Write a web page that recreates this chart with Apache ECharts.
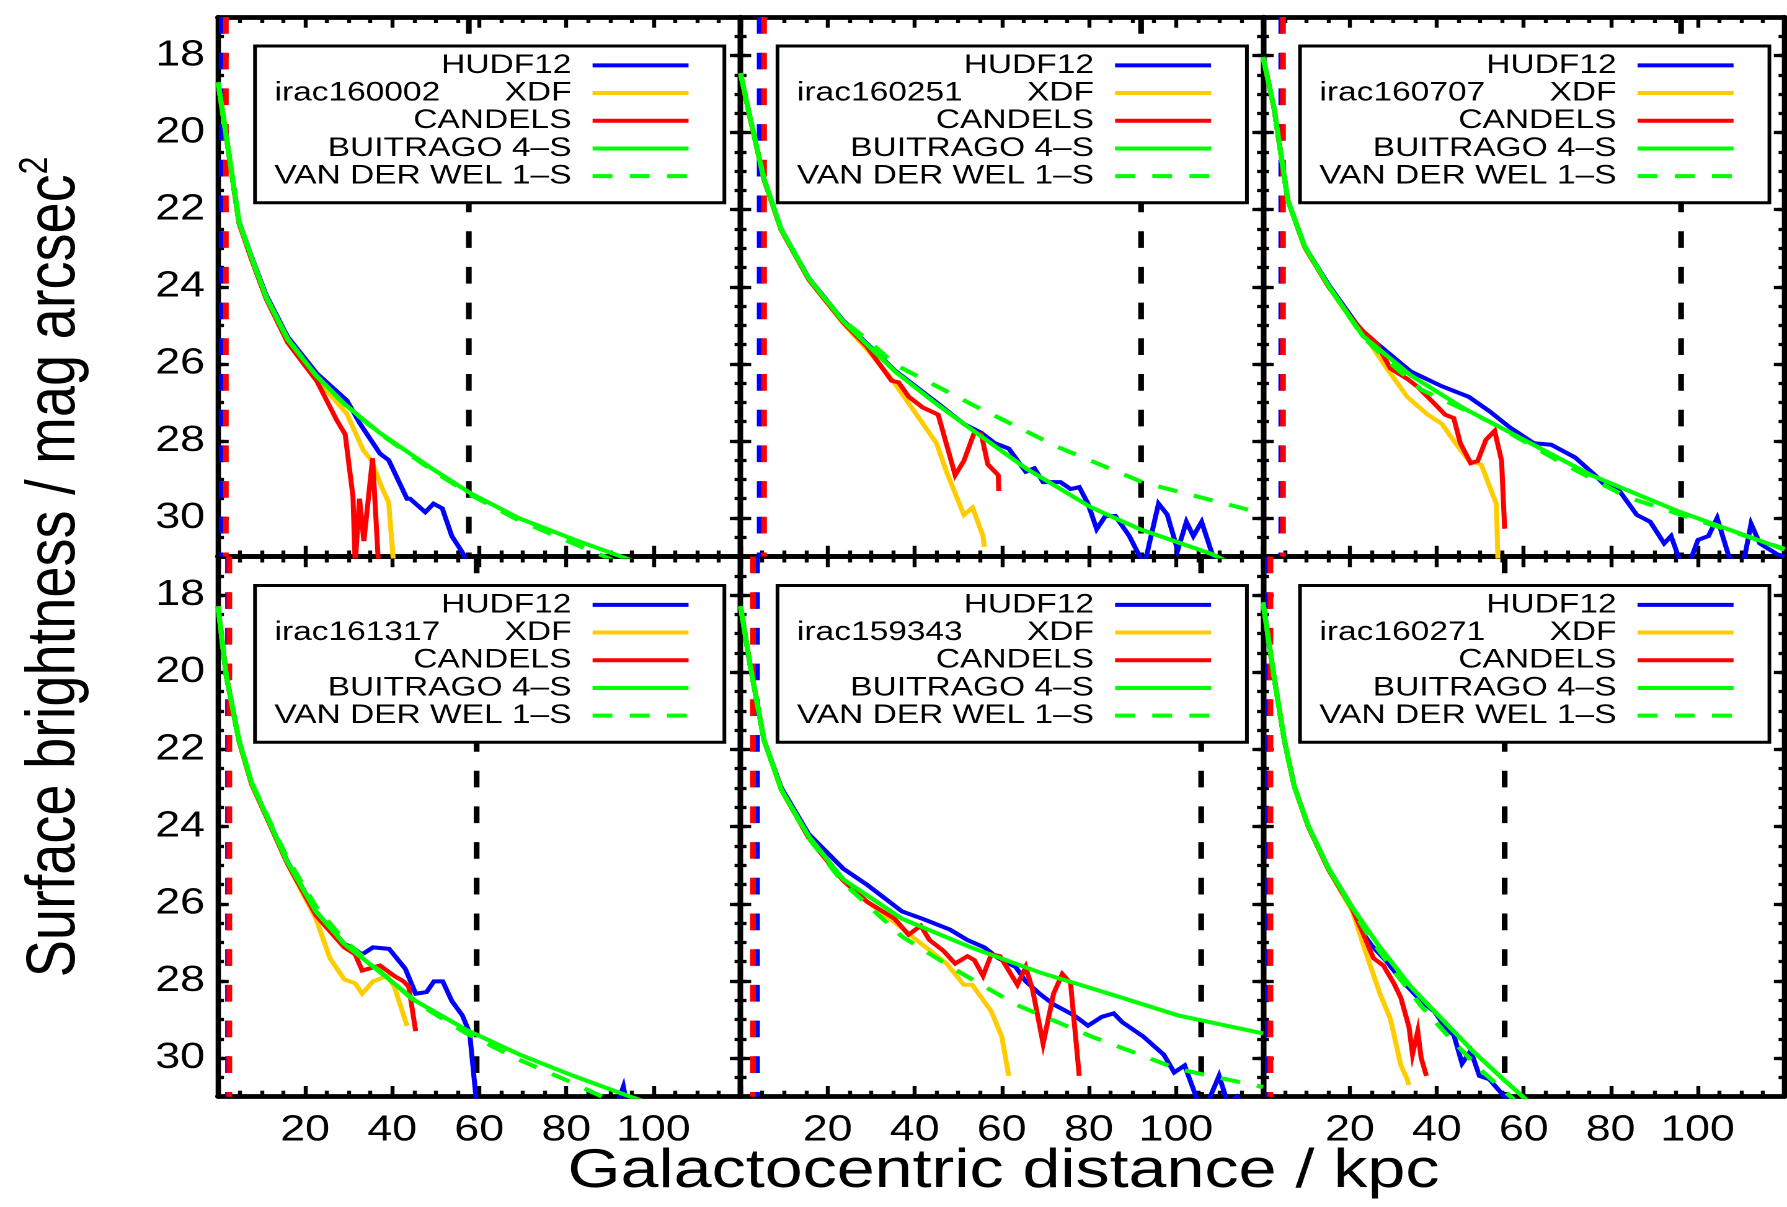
<!DOCTYPE html>
<html><head><meta charset="utf-8">
<script src="https://cdn.jsdelivr.net/npm/echarts@6/dist/echarts.min.js"></script>
<style>
html,body{margin:0;padding:0;overflow:hidden;background:#fff;width:1787px;height:1207px}
#chart{width:1441px;height:1207px;transform:scaleX(1.240111);transform-origin:0 0;}
</style></head><body><div id="chart"></div>
<script>
// ---------- DATA ----------
const xTickLabels = [20, 40, 60, 80, 100];
const yTickLabels = [18, 20, 22, 24, 26, 28, 30];
const xRange = [0, 120];
const yRange = [17, 31];
const seriesNames = ['HUDF12', 'XDF', 'CANDELS', 'BUITRAGO 4–S', 'VAN DER WEL 1–S'];
const galaxies = ['irac160002', 'irac160251', 'irac160707', 'irac161317', 'irac159343', 'irac160271'];
const hudfLimit = [0.9, 4.4, 4.2, 2.3, 3.8, 1.1];
const candelsLimit = [1.8, 5.4, 4.6, 2.6, 2.85, 1.7];
const outerLimit = [57.6, 92, 96.2, 59.4, 105.8, 55.6];

// panel 1 : irac160002
const p1_buitrago = [[0,18.69],[1.9,20.09],[4.8,22.31],[7.7,23.24],[11,24.26],[16,25.37],[22.5,26.3],[29,27.04],[37,27.78],[49,28.71],[58,29.36],[69,30.0],[82,30.57],[95,31.1],[110,31.6]];
const p1_vanderwel = [[0,18.7],[1.9,20.1],[4.8,22.3],[7.7,23.25],[11,24.25],[16,25.35],[22.5,26.3],[29,27.05],[37,27.8],[49,28.75],[58,29.4],[69,30.06],[82,30.68],[93,31.2]];
const p1_hudf12 = [[0,18.7],[1.9,20.1],[4.8,22.3],[7.7,23.22],[11,24.2],[16,25.3],[22.7,26.25],[29.6,26.95],[32.6,27.55],[37.2,28.33],[39.2,28.5],[43.4,29.5],[44.1,29.5],[47.6,29.85],[49.5,29.63],[51.5,29.75],[53.7,30.47],[56.1,30.89],[58,31.3]];
const p1_xdf = [[0,18.7],[1.9,20.1],[4.8,22.32],[7.7,23.25],[11,24.25],[16,25.35],[22.7,26.4],[29.6,27.3],[33.4,28.25],[35.2,28.5],[37.6,29.2],[39.2,29.6],[40.4,31.3]];
const p1_candels = [[0,18.7],[1.9,20.1],[4.8,22.35],[7.7,23.3],[11,24.3],[16,25.45],[22.7,26.45],[27.3,27.47],[29.2,27.83],[31.0,29.45],[31.5,31.2],[32.5,29.5],[33.5,30.6],[35.5,28.45],[36.9,31.3]];

// panel 2 : irac160251
const p2_buitrago = [[0,18.46],[2.2,19.62],[5.4,21.2],[9.3,22.5],[15.7,23.79],[23.6,24.9],[35.5,26.2],[45,27.04],[52.9,27.69],[65.5,28.71],[80.6,29.73],[91.7,30.29],[108.3,30.94],[115,31.3]];
const p2_vanderwel = [[0,18.46],[2.2,19.62],[5.4,21.2],[9.3,22.5],[15.7,23.79],[23.6,24.88],[29.1,25.37],[35.5,26.02],[52.9,27.04],[72.7,28.15],[92.5,29.08],[117.8,29.82],[120,29.88]];
const p2_hudf12 = [[0,18.46],[2.2,19.62],[5.4,21.2],[9.3,22.5],[15.7,23.78],[23.6,24.88],[35.5,26.18],[45,27.0],[51.3,27.56],[55.3,27.79],[58.4,28.06],[61.6,28.2],[65.5,28.8],[67.5,28.71],[69.5,29.07],[73.5,29.07],[75.8,29.25],[77.8,29.2],[79.8,29.63],[81.8,30.29],[83.8,29.95],[86.1,29.95],[89.3,30.47],[91.7,31.0],[92.6,31.3],[96,29.63],[98,29.91],[100.4,30.84],[102.4,30.1],[104,30.47],[105.9,30.1],[109.1,31.2]];
const p2_xdf = [[0,18.46],[2.2,19.62],[5.4,21.22],[9.3,22.52],[15.7,23.82],[23.6,24.95],[29,25.62],[34.7,26.39],[41,27.41],[45,28.06],[47.3,28.8],[51.3,29.92],[53.3,29.73],[55.7,30.47],[56,30.75]];
const p2_candels = [[0,18.46],[2.2,19.62],[5.4,21.22],[9.3,22.52],[15.7,23.82],[23.6,24.93],[29,25.55],[34.7,26.44],[36.3,26.48],[38.6,26.85],[41.8,27.13],[45.4,27.32],[49.3,28.89],[51.3,28.52],[53.7,27.78],[55.3,27.83],[56.8,28.61],[59.2,28.89],[59.3,29.3]];

// panel 3 : irac160707
const p3_buitrago = [[0,18.04],[2.5,19.34],[5.7,21.75],[9.6,22.96],[15.1,23.98],[23,25.28],[34,26.3],[45.8,27.13],[60,27.97],[75.7,28.9],[95.4,29.82],[118.3,30.75],[120,30.82]];
const p3_vanderwel = [[0,18.04],[2.5,19.34],[5.7,21.75],[9.6,22.96],[15.1,23.98],[23,25.3],[29,25.95],[36.4,26.67],[52.1,27.5],[67.9,28.52],[83.6,29.45],[96.2,29.92],[120,30.8]];
const p3_hudf12 = [[0,18.04],[2.5,19.34],[5.7,21.75],[9.6,22.96],[15.1,23.95],[23,25.2],[26.1,25.46],[34,26.2],[41.1,26.58],[47.4,26.86],[52.1,27.23],[56.8,27.65],[62.3,28.06],[66.3,28.1],[71.8,28.43],[76.5,28.9],[78.9,29.17],[81.2,29.17],[86,29.92],[89.1,30.1],[92.3,30.66],[93.9,30.47],[96.2,31.2],[98,31.2],[100.1,30.57],[102.5,30.47],[104.5,30.0],[107.2,31.0],[109,31.2],[110.5,31.2],[112.3,30.15],[114.3,30.66],[118.3,30.94],[120,31.0]];
const p3_xdf = [[0,18.04],[2.5,19.34],[5.7,21.75],[9.6,22.98],[15.1,24.0],[20.6,24.9],[23,25.2],[28.5,26.12],[33.2,26.86],[37.9,27.32],[41.1,27.55],[44.3,28.06],[47.4,28.52],[50.2,28.61],[52.1,29.17],[53.7,29.64],[54.1,31.3]];
const p3_candels = [[0,18.04],[2.5,19.34],[5.7,21.75],[9.6,22.98],[15.1,24.0],[20.6,24.85],[23,25.15],[26.1,25.46],[29.3,26.12],[33.2,26.39],[35.6,26.6],[39.5,27.04],[41.9,27.32],[43.9,27.41],[45.4,28.06],[47.8,28.58],[49.4,28.52],[51.3,27.97],[53.3,27.74],[54.9,28.52],[55.6,30.28]];

// panel 4 : irac161317
const p4_buitrago = [[0,18.29],[1.9,20.09],[4.8,21.76],[7.7,22.87],[11.8,23.89],[15.9,24.91],[22.5,26.2],[29,27.04],[37.2,27.77],[45.4,28.52],[56.9,29.26],[69.3,29.91],[81.6,30.46],[94.7,31.0],[105,31.4]];
const p4_vanderwel = [[0,18.29],[1.9,20.09],[4.8,21.76],[7.7,22.85],[11.8,23.85],[15.9,24.82],[22.5,26.08],[29,26.95],[37.2,27.75],[45.4,28.55],[56.9,29.35],[69.3,30.05],[81.6,30.65],[92,31.2]];
const p4_hudf12 = [[0,18.29],[1.9,20.09],[4.8,21.76],[7.7,22.87],[11.8,23.89],[15.9,24.9],[22.5,26.2],[29,27.04],[30.7,27.13],[33.1,27.31],[35.6,27.13],[39.3,27.17],[43,27.68],[45.4,28.33],[47.9,28.29],[49.6,28.01],[51.6,28.01],[53.7,28.52],[56.1,28.89],[57.8,29.35],[59.4,31.2],[60,31.4],[91,31.4],[93.1,30.74],[94.2,31.4]];
const p4_xdf = [[0,18.29],[1.9,20.09],[4.8,21.78],[7.7,22.9],[11.8,23.92],[15.9,24.95],[22.5,26.39],[25.7,27.41],[29,27.96],[31.5,28.06],[33.1,28.33],[35.6,28.01],[38.9,27.87],[40.5,28.15],[43.4,29.16]];
const p4_candels = [[0,18.29],[1.9,20.09],[4.8,21.78],[7.7,22.9],[11.8,23.92],[15.9,24.95],[22.5,26.3],[26,26.75],[29,27.13],[31.5,27.31],[33.1,27.73],[37.2,27.6],[40.5,27.87],[42.6,28.01],[43.8,28.15],[45.4,29.3]];

// panel 5 : irac159343
const p5_buitrago = [[0,18.29],[2.2,19.81],[5.4,21.76],[9.4,23.05],[15.7,24.26],[23.6,25.37],[37.1,26.39],[52.9,27.13],[68.7,27.78],[84.6,28.33],[100.4,28.89],[120,29.36]];
const p5_vanderwel = [[0,18.29],[2.2,19.81],[5.4,21.76],[9.4,23.05],[15.7,24.3],[23.6,25.46],[29.1,26.02],[37.1,26.85],[48.9,27.68],[63.2,28.61],[80.6,29.44],[100.4,30.28],[120,30.75]];
const p5_hudf12 = [[0,18.29],[2.2,19.81],[5.4,21.76],[9.4,23.0],[15.7,24.2],[23.6,25.09],[29.1,25.51],[37.1,26.2],[41.8,26.39],[48.1,26.67],[52.1,26.94],[56,27.13],[59.2,27.41],[63.2,27.64],[65.5,28.01],[68.7,28.33],[71.9,28.61],[76.6,28.89],[79.8,29.16],[83,28.93],[85.7,28.84],[87.7,29.07],[92.5,29.44],[97.2,29.91],[99.6,30.37],[102,30.19],[104.7,31.02],[106,31.3],[107.5,31.1],[109.9,30.46],[112,31.2],[114,31.0],[116,31.3]];
const p5_xdf = [[0,18.29],[2.2,19.81],[5.4,21.76],[9.4,23.05],[15.7,24.3],[23.6,25.4],[29.1,25.95],[35.4,26.48],[40.4,26.94],[42.6,27.13],[47.3,27.55],[51.3,28.1],[53.2,28.1],[57.6,28.79],[60,29.44],[61.6,30.46]];
const p5_candels = [[0,18.29],[2.2,19.81],[5.4,21.76],[9.4,23.05],[15.7,24.3],[23.6,25.4],[29.1,25.95],[35.4,26.39],[38.6,26.8],[41.4,26.57],[43.4,26.94],[46.6,27.22],[49.3,27.55],[52.1,27.36],[53.7,27.46],[55.7,27.87],[57.6,27.31],[59.6,27.36],[63.6,28.1],[65.5,27.64],[67.1,28.24],[69.5,29.63],[71.9,28.33],[73.9,27.82],[75.8,28.06],[77.8,30.46]];

// panel 6 : irac160271
const p6_buitrago = [[0,18.19],[2.5,20.09],[4.9,21.76],[7.2,22.96],[10.4,23.98],[15.1,25.09],[20.6,26.11],[26.9,27.13],[34,28.15],[41.1,28.98],[48.2,29.81],[55.3,30.55],[60,31.02],[65,31.5]];
const p6_vanderwel = [[0,18.19],[2.5,20.09],[4.9,21.76],[7.2,22.96],[10.4,23.98],[15.1,25.09],[20.6,26.15],[25,26.95],[30.9,27.85],[36.4,28.65],[42.7,29.44],[50,30.3],[58,31.1],[62,31.5]];
const p6_hudf12 = [[0,18.19],[2.5,20.09],[4.9,21.76],[7.2,22.96],[10.4,23.98],[15.1,25.09],[20.6,26.11],[23,26.76],[25,27.08],[28.5,27.5],[31.7,27.96],[36.4,28.52],[39.5,28.8],[42.3,29.26],[43.9,29.4],[45.8,30.14],[47.8,29.81],[49.8,30.46],[52.1,30.55],[55.7,31.02],[56.5,31.3]];
const p6_xdf = [[0,18.19],[2.5,20.09],[4.9,21.76],[7.2,22.96],[10.4,24.0],[15.1,25.12],[20.6,26.2],[23.8,27.31],[26.9,28.33],[29.3,28.98],[31.7,30.18],[33.2,30.55],[33.5,30.7]];
const p6_candels = [[0,18.19],[2.5,20.09],[4.9,21.76],[7.2,22.96],[10.4,24.0],[15.1,25.12],[20.6,26.15],[23,26.76],[25.4,27.41],[27.7,27.6],[30.1,28.06],[31.7,28.43],[33.6,29.2],[34.4,29.9],[35.6,29.3],[36.4,30.0],[37.6,30.46]];

// ---------- BUILD ----------
const panels = [
  {hudf12:p1_hudf12, xdf:p1_xdf, candels:p1_candels, buitrago:p1_buitrago, vanderwel:p1_vanderwel},
  {hudf12:p2_hudf12, xdf:p2_xdf, candels:p2_candels, buitrago:p2_buitrago, vanderwel:p2_vanderwel},
  {hudf12:p3_hudf12, xdf:p3_xdf, candels:p3_candels, buitrago:p3_buitrago, vanderwel:p3_vanderwel},
  {hudf12:p4_hudf12, xdf:p4_xdf, candels:p4_candels, buitrago:p4_buitrago, vanderwel:p4_vanderwel},
  {hudf12:p5_hudf12, xdf:p5_xdf, candels:p5_candels, buitrago:p5_buitrago, vanderwel:p5_vanderwel},
  {hudf12:p6_hudf12, xdf:p6_xdf, candels:p6_candels, buitrago:p6_buitrago, vanderwel:p6_vanderwel}
];

const SX = 1787 / 1441;           // horizontal stretch of the original figure
const FONT = "'Liberation Sans', Arial, Helvetica, sans-serif";
const colX = [218, 740.5, 1263], colEnd = [740.5, 1263, 1784.5];
const rowY = [17, 556.5], rowEnd = [556.5, 1096.7];
const BLACK = '#000';

const grids = [], xAxes = [], yAxes = [], series = [], legends = [], titles = [];

function lineSeries(name, data, color, i, extra) {
  return Object.assign({
    type: 'line', name: name, data: data, xAxisIndex: 2 * i, yAxisIndex: 4 * i,
    symbol: 'none', showSymbol: false, clip: true, silent: true, animation: false,
    lineStyle: { color: color, width: 4, type: 'solid', cap: 'butt', join: 'miter' },
    itemStyle: { color: color }, emphasis: { disabled: true }, z: 2
  }, extra || {});
}

for (let i = 0; i < 6; i++) {
  const r = i < 3 ? 0 : 1, c = i % 3;
  const gl = colX[c] / SX, gw = (colEnd[c] - colX[c]) / SX;
  const gt = rowY[r], gh = rowEnd[r] - rowY[r];
  grids.push({ left: gl, top: gt, width: gw, height: gh, show: false, containLabel: false, outerBoundsMode: 'none' });

  const xBase = {
    gridIndex: i, type: 'value', min: xRange[0], max: xRange[1], interval: 20,
    axisLine: { show: true, onZero: false, lineStyle: { color: BLACK, width: 4.7 } },
    axisTick: { show: true, inside: true, length: 10.7, lineStyle: { color: BLACK, width: 3.2 } },
    minorTick: { show: true, splitNumber: 4, length: 6, lineStyle: { color: BLACK, width: 3.2 } },
    splitLine: { show: false }, minorSplitLine: { show: false }
  };
  xAxes.push(Object.assign({}, xBase, {
    position: 'bottom',
    axisLabel: { show: r === 1, margin: 16, color: BLACK, fontSize: 36, fontFamily: FONT,
      formatter: v => xTickLabels.indexOf(v) >= 0 ? String(v) : '' }
  }));
  xAxes.push(Object.assign({}, xBase, { position: 'top', axisLabel: { show: false } }));

  const yMinor = (pos) => ({
    gridIndex: i, type: 'value', inverse: true, min: yRange[0], max: yRange[1], interval: 0.5, position: pos,
    axisLine: { show: true, onZero: false, lineStyle: { color: BLACK, width: 4.3 } },
    axisTick: { show: true, inside: true, length: 4.8, lineStyle: { color: BLACK, width: 3.3 } },
    axisLabel: { show: false }, splitLine: { show: false }
  });
  const yMajor = (pos, showLab) => ({
    gridIndex: i, type: 'value', inverse: true, min: yRange[0], max: yRange[1], splitNumber: 7, position: pos,
    axisLine: { show: false, onZero: false },
    axisTick: { show: true, inside: true, length: 8.6, customValues: yTickLabels, lineStyle: { color: BLACK, width: 3.3 } },
    axisLabel: { show: showLab, customValues: yTickLabels, margin: 10.5, color: BLACK, fontSize: 36, fontFamily: FONT },
    splitLine: { show: false }
  });
  yAxes.push(yMinor('left'), yMajor('left', c === 0), yMinor('right'), yMajor('right', false));

  const P = panels[i];
  const dashV = [16.7, 19];
  series.push(lineSeries('hudf-limit', [[hudfLimit[i], yRange[0]], [hudfLimit[i], yRange[1]]], '#0000ff', i,
    { lineStyle: { color: '#0000ff', width: 4.6, type: dashV } }));
  series.push(lineSeries('candels-limit', [[candelsLimit[i], yRange[0]], [candelsLimit[i], yRange[1]]], '#ff0000', i,
    { lineStyle: { color: '#ff0000', width: 4.6, type: dashV } }));
  series.push(lineSeries('outer-limit', [[outerLimit[i], yRange[0]], [outerLimit[i], yRange[1]]], BLACK, i,
    { lineStyle: { color: BLACK, width: 4.6, type: dashV } }));
  series.push(lineSeries(seriesNames[0], P.hudf12, '#0000ff', i));
  series.push(lineSeries(seriesNames[1], P.xdf, '#ffcc00', i));
  series.push(lineSeries(seriesNames[2], P.candels, '#ff0000', i));
  series.push(lineSeries(seriesNames[3], P.buitrago, '#00ff00', i));
  series.push(lineSeries(seriesNames[4], P.vanderwel, '#00ff00', i,
    { lineStyle: { color: '#00ff00', width: 4, type: [16, 14] } }));

  legends.push({
    show: true, type: 'plain', orient: 'vertical', align: 'right',
    left: gl + 37 / SX, top: gt + 29,
    backgroundColor: '#fff', borderColor: BLACK, borderWidth: 3, borderRadius: 0,
    padding: [5.5, 26.9, 12.8, 5.2], itemGap: 0, itemWidth: 77.4, itemHeight: 14,
    selectedMode: false, data: seriesNames,
    itemStyle: { color: 'rgba(0,0,0,0)', borderColor: 'rgba(0,0,0,0)', borderWidth: 0, opacity: 0 },
    lineStyle: { width: 4 },
    textStyle: { fontFamily: FONT, fontSize: 27, color: BLACK, width: 250, align: 'right',
      lineHeight: 27.7, padding: [0, 12, 0, 0] }
  });
  titles.push({
    text: galaxies[i], left: gl + 56.5 / SX, top: gt + 62.15, padding: 0,
    textStyle: { fontFamily: FONT, fontSize: 27, fontWeight: 'normal', color: BLACK, lineHeight: 27.7 }
  });
}

const chart = echarts.init(document.getElementById('chart'), null, { renderer: 'canvas', devicePixelRatio: 2 });
chart.setOption({
  animation: false,
  backgroundColor: '#fff',
  grid: grids, xAxis: xAxes, yAxis: yAxes, series: series, legend: legends, title: titles,
  graphic: [
    { type: 'text', x: 44.4, y: 567, rotation: Math.PI / 2, z: 10,
      style: { text: '{a|Surface brightness / mag arcsec}{b|2}', align: 'center', verticalAlign: 'middle',
        textAlign: 'center', textVerticalAlign: 'middle',
        rich: { a: { fontSize: 56, fontFamily: FONT, fill: BLACK, lineHeight: 62 },
                b: { fontSize: 32, fontFamily: FONT, fill: BLACK, verticalAlign: 'top', lineHeight: 34 } } } },
    { type: 'text', x: 1003.5 / SX, y: 1172, z: 10,
      style: { text: 'Galactocentric distance / kpc', fontSize: 55, fontFamily: FONT, fill: BLACK,
        align: 'center', verticalAlign: 'middle', textAlign: 'center', textVerticalAlign: 'middle' } }
  ]
});
</script></body></html>
